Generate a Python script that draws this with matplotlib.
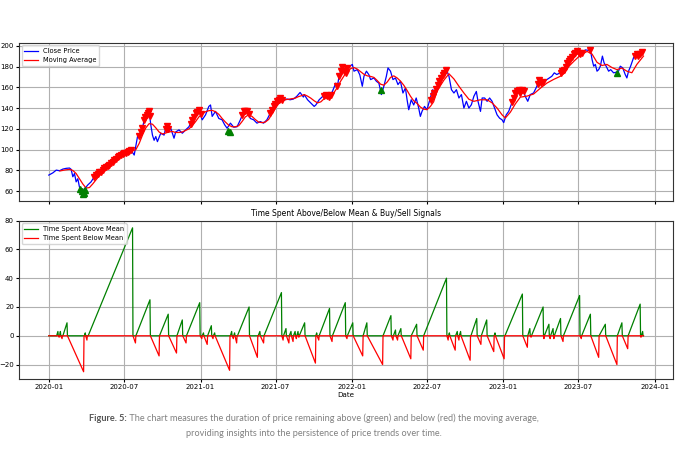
import matplotlib
matplotlib.use("Agg")
import matplotlib.pyplot as plt
import matplotlib.dates as mdates
from matplotlib.ticker import MultipleLocator
import pandas as pd

START = pd.Timestamp("2020-01-01")
LAST_DAY = 1434

# all x values are days after 2020-01-01
close_day = [0, 10, 18, 26, 34, 42, 50, 54, 58, 62, 66, 70, 74, 78, 82, 86, 90, 94, 102, 110,
             118, 126, 134, 142, 150, 158, 166, 174, 182, 190, 198, 206, 214, 220, 226, 230, 236, 242, 246, 250,
             254, 258, 262, 270, 278, 284, 290, 294, 302, 306, 314, 322, 330, 338, 346, 354, 362, 370, 378, 386,
             390, 394, 402, 410, 418, 424, 430, 438, 446, 454, 462, 470, 478, 486, 494, 502, 510, 518, 526, 534,
             542, 550, 558, 566, 574, 582, 590, 598, 606, 614, 616, 624, 632, 640, 644, 652, 660, 668, 676, 684,
             692, 696, 700, 704, 708, 716, 720, 726, 732, 736, 744, 750, 756, 760, 766, 772, 776, 784, 790, 796,
             802, 808, 814, 818, 824, 830, 836, 842, 848, 854, 860, 864, 868, 874, 880, 886, 892, 896, 900, 906,
             912, 920, 926, 929, 937, 945, 953, 959, 965, 971, 977, 983, 989, 995, 1001, 1007, 1013, 1019, 1025, 1031,
             1035, 1041, 1045, 1051, 1057, 1063, 1069, 1075, 1081, 1087, 1093, 1097, 1103, 1109, 1115, 1119, 1125, 1131, 1137, 1143,
             1149, 1155, 1161, 1169, 1177, 1183, 1189, 1195, 1201, 1207, 1213, 1219, 1225, 1233, 1242, 1250, 1258, 1266, 1274, 1280,
             1286, 1294, 1302, 1306, 1310, 1314, 1318, 1322, 1326, 1330, 1335, 1339, 1344, 1350, 1355, 1362, 1368, 1374, 1378, 1384,
             1390, 1394, 1398, 1403, 1410, 1416, 1422, 1427, 1434]
close_val = [75.5, 77.7, 80.3, 79.7, 81.3, 82.0, 82.3, 81.0, 73.9, 77.0, 69.0, 72.0, 64.0, 61.0, 57.5, 62.6, 64.0, 66.0, 69.0, 74.0,
             77.0, 78.7, 82.0, 84.0, 86.8, 90.0, 92.6, 94.8, 96.5, 98.0, 99.7, 94.8, 112.6, 115.8, 120.6, 128.7, 133.5, 136.8, 123.9, 114.0,
             109.0, 112.6, 107.7, 115.8, 114.0, 124.0, 117.4, 120.6, 111.0, 117.0, 119.0, 115.8, 119.0, 122.0, 128.7, 135.0, 138.0, 128.7, 133.5, 141.6,
             143.0, 132.0, 136.8, 130.0, 128.7, 124.0, 120.6, 125.5, 121.6, 122.0, 128.7, 136.8, 136.8, 130.0, 128.7, 125.5, 127.0, 125.5, 128.7, 135.0,
             141.6, 146.5, 149.7, 147.4, 148.7, 148.0, 148.7, 151.3, 155.0, 150.6, 153.0, 148.0, 144.8, 141.6, 143.0, 148.0, 151.0, 153.0, 151.0, 156.0,
             164.0, 161.0, 170.6, 175.5, 178.7, 173.9, 178.7, 180.3, 182.0, 175.5, 177.0, 172.0, 161.0, 170.6, 175.5, 172.0, 167.4, 169.0, 165.8, 164.0,
             153.0, 161.0, 170.6, 178.7, 175.5, 167.4, 169.0, 162.6, 165.8, 154.5, 159.3, 148.0, 138.4, 148.0, 143.0, 149.7, 140.0, 132.0, 136.8, 141.6,
             138.4, 149.7, 157.7, 154.5, 161.0, 169.0, 173.9, 177.0, 170.6, 157.7, 154.5, 157.7, 149.7, 153.0, 140.0, 146.5, 140.0, 143.2, 151.3, 156.0,
             146.5, 136.8, 149.7, 149.7, 146.5, 149.7, 146.5, 140.0, 133.5, 130.3, 128.7, 126.0, 133.5, 136.8, 143.2, 148.0, 154.5, 157.7, 154.5, 157.7,
             151.3, 146.5, 153.0, 154.5, 161.0, 167.4, 162.6, 165.8, 167.4, 169.0, 170.6, 173.9, 172.3, 173.9, 177.0, 183.5, 186.8, 191.6, 194.8, 191.6,
             193.2, 196.0, 195.5, 196.0, 186.8, 180.3, 182.0, 175.5, 177.0, 180.3, 190.0, 183.5, 180.3, 175.5, 177.0, 173.9, 174.5, 175.5, 180.3, 178.7,
             172.3, 169.0, 175.5, 180.3, 188.4, 191.6, 190.0, 193.2, 194.2]

ma_day = [27, 40, 50, 58, 66, 74, 82, 90, 98, 106, 114, 122, 130, 138, 146, 154, 162, 170, 178, 186,
          194, 202, 210, 218, 226, 234, 242, 250, 258, 266, 274, 282, 290, 298, 306, 314, 322, 330, 338, 346,
          354, 362, 370, 378, 386, 394, 402, 410, 418, 426, 434, 442, 450, 458, 466, 474, 482, 490, 498, 506,
          514, 522, 530, 538, 546, 554, 562, 570, 578, 586, 594, 602, 610, 616, 624, 632, 640, 648, 656, 664,
          672, 680, 688, 696, 704, 712, 720, 728, 736, 744, 752, 760, 768, 776, 784, 792, 800, 808, 816, 824,
          832, 840, 848, 856, 864, 872, 880, 888, 896, 904, 912, 920, 928, 937, 945, 953, 965, 977, 989, 1001,
          1013, 1025, 1041, 1057, 1069, 1081, 1093, 1101, 1113, 1125, 1137, 1153, 1169, 1185, 1201, 1217, 1233, 1245, 1250, 1266,
          1282, 1298, 1310, 1322, 1334, 1346, 1358, 1370, 1382, 1394, 1406, 1418, 1434]
ma_val = [79.5, 80.5, 81.0, 80.0, 77.0, 72.0, 67.0, 63.0, 63.5, 67.0, 71.0, 75.0, 78.0, 81.0, 84.0, 87.0, 89.5, 92.0, 94.5, 96.5,
          98.0, 99.0, 100.0, 106.0, 114.0, 121.0, 125.0, 124.5, 121.0, 117.0, 115.0, 116.0, 117.0, 117.5, 116.5, 116.5, 117.0, 118.5, 120.0, 123.0,
          127.0, 131.5, 134.5, 136.5, 137.5, 137.8, 136.5, 134.0, 130.0, 126.5, 123.5, 122.0, 122.0, 123.0, 127.0, 131.5, 133.5, 132.0, 129.0, 126.5,
          126.0, 126.5, 129.0, 134.0, 139.5, 144.0, 146.5, 148.0, 148.5, 149.0, 149.5, 151.0, 152.0, 153.0, 151.5, 149.5, 147.0, 145.0, 146.0, 149.0,
          151.0, 152.5, 155.0, 160.0, 166.0, 171.0, 175.0, 178.0, 179.0, 177.5, 175.0, 172.5, 171.0, 170.5, 169.5, 166.5, 163.0, 162.0, 165.0, 169.5,
          171.0, 169.0, 166.0, 162.0, 157.0, 151.5, 147.0, 144.5, 141.0, 139.0, 138.5, 141.5, 146.0, 157.0, 162.0, 167.0, 173.0, 168.0, 161.0, 154.5,
          148.5, 146.5, 148.0, 148.0, 145.0, 140.0, 133.5, 130.5, 136.0, 144.0, 150.5, 151.5, 153.5, 159.0, 164.0, 167.5, 170.5, 174.0, 178.5, 185.0,
          191.0, 194.5, 192.0, 184.0, 181.0, 182.0, 179.0, 177.0, 178.5, 175.5, 174.0, 182.0, 190.0]

sell_day = [110, 114, 118, 122, 126, 130, 134, 138, 142, 146, 150, 154, 158, 162, 166, 170, 174, 178, 182, 186, 190, 194, 198,
            218, 222, 226, 230, 233, 236, 239, 242, 244, 282, 285, 288,
            342, 346, 350, 354, 358, 362, 366, 466, 470, 474, 478, 482,
            534, 538, 542, 546, 550, 554, 558, 562, 664, 668, 672, 676, 680,
            696, 700, 704, 708, 712, 716, 720, 922, 926, 930, 934, 938, 942, 946, 950, 954, 958,
            1117, 1121, 1125, 1129, 1133, 1137, 1141, 1145, 1179, 1183, 1187, 1191,
            1234, 1238, 1242, 1246, 1250, 1254, 1258, 1262, 1266, 1270, 1274, 1278, 1282, 1286, 1306,
            1414, 1418, 1422, 1426, 1430]
sell_val = [74.0, 75.5, 77.0, 78.0, 78.7, 80.5, 82.0, 83.0, 84.0, 85.5, 86.8, 88.5, 90.0, 91.0, 92.6, 93.5, 94.8, 95.5, 96.5, 97.0, 98.0, 99.0, 99.7,
            113.0, 117.0, 120.6, 128.7, 131.0, 133.5, 135.0, 136.8, 132.0, 120.0, 123.0, 120.0,
            125.0, 128.7, 131.0, 135.0, 136.0, 138.0, 134.0, 133.0, 136.8, 137.0, 136.8, 134.0,
            135.0, 138.0, 141.6, 144.0, 146.5, 148.0, 149.7, 148.0, 152.0, 153.0, 152.0, 151.0, 153.0,
            161.0, 170.6, 176.0, 180.0, 176.0, 173.9, 178.7, 148.0, 152.0, 154.5, 158.0, 162.0, 166.0, 169.0, 172.0, 174.0, 177.0,
            146.0, 150.0, 154.5, 156.5, 157.0, 154.5, 157.0, 156.0, 163.0, 167.4, 164.0, 165.0,
            174.0, 176.0, 177.0, 180.0, 183.5, 185.0, 186.8, 189.0, 191.6, 193.0, 194.8, 193.0, 192.0, 193.2, 196.0,
            190.0, 191.6, 190.5, 192.5, 193.5]

buy_day = [76, 79, 82, 85, 88, 432, 436, 800, 1371]
buy_val = [62.5, 60.0, 57.5, 58.5, 61.0, 118.0, 117.0, 157.5, 173.5]

# bottom panel: runs above the average (start day, end day, count reached)
above_start = [19, 26, 34, 86, 95, 210, 267, 309, 332, 370, 383, 397, 438, 446, 455, 505, 519, 566, 580, 590,
               598, 604, 644, 652, 684, 720, 758, 806, 831, 842, 874, 904, 964, 981, 990, 1018, 1043, 1074, 1100, 1155,
               1164, 1195, 1210, 1219, 1241, 1285, 1327, 1371, 1397, 1429]
above_end = [22, 28, 44, 88, 202, 244, 288, 322, 364, 373, 392, 400, 441, 448, 483, 509, 561, 572, 584, 594,
             601, 617, 646, 677, 715, 733, 767, 825, 836, 849, 887, 959, 966, 985, 993, 1032, 1056, 1076, 1142, 1160,
             1192, 1206, 1216, 1234, 1280, 1306, 1342, 1382, 1426, 1432]
above_peak = [3, 3, 9, 2, 75, 25, 15, 11, 23, 2, 7, 2, 3, 2, 20, 3, 30, 5, 3, 3,
              3, 9, 2, 19, 23, 9, 9, 14, 4, 5, 8, 40, 2, 3, 3, 12, 11, 2, 29, 5,
              20, 8, 5, 12, 28, 15, 8, 9, 22, 3]

# runs below the average (start day, end day, count reached, negative)
below_start = [23, 29, 45, 89, 203, 245, 289, 323, 365, 374, 393, 401, 442, 449, 484, 510, 562, 573, 585, 595,
               602, 618, 647, 678, 716, 734, 768, 826, 837, 850, 888, 960, 967, 986, 994, 1033, 1057, 1077, 1143, 1161,
               1193, 1207, 1217, 1235, 1281, 1307, 1343, 1383, 1427]
below_end = [25, 32, 84, 92, 209, 266, 308, 331, 369, 382, 396, 436, 445, 453, 503, 518, 565, 579, 589, 597,
             603, 643, 651, 683, 719, 757, 805, 830, 841, 873, 903, 963, 980, 989, 1016, 1042, 1073, 1098, 1154, 1163,
             1194, 1209, 1218, 1240, 1284, 1326, 1370, 1396, 1428]
below_low = [-1, -2, -25, -3, -5, -14, -12, -5, -2, -6, -2, -24, -2, -5, -15, -5, -3, -5, -4, -2,
             -1, -19, -3, -4, -2, -14, -20, -3, -3, -16, -10, -3, -10, -3, -17, -6, -11, -16, -8, -1,
             -2, -2, -2, -4, -2, -15, -20, -9, -1]


def to_dates(days):
    return START + pd.to_timedelta(days, unit="D")


def run_line(starts, ends, levels):
    # counter sits at 0, climbs to the level over the run, then resets the day after
    d, v = [0], [0]
    for s, e, lv in zip(starts, ends, levels):
        d += [s, e, e + 1]
        v += [0, lv, 0]
    d.append(LAST_DAY)
    v.append(0)
    return to_dates(d), v


plt.rcParams["font.size"] = 5.1
plt.rcParams["axes.edgecolor"] = "#333333"
fig = plt.figure(figsize=(6.8, 4.61), dpi=100)
ax1 = fig.add_axes([0.028, 0.564, 0.962, 0.3434])
ax2 = fig.add_axes([0.028, 0.178, 0.962, 0.3434], sharex=ax1)

ax1.plot(to_dates(close_day), close_val, color="blue", lw=0.9, label="Close Price")
ax1.plot(to_dates(ma_day), ma_val, color="red", lw=0.9, label="Moving Average")
ax1.plot(to_dates(sell_day), sell_val, "v", color="red", ms=5, ls="none")
ax1.plot(to_dates(buy_day), buy_val, "^", color="green", ms=5, ls="none")
ax1.yaxis.set_major_locator(MultipleLocator(20))
ax1.legend(loc="upper left", fontsize=4.8, borderaxespad=0.4)
ax1.grid(True)
ax1.tick_params(labelbottom=False)

gd, gv = run_line(above_start, above_end, above_peak)
rd, rv = run_line(below_start, below_end, below_low)
ax2.plot(gd, gv, color="green", lw=0.9, label="Time Spent Above Mean")
ax2.plot(rd, rv, color="red", lw=0.9, label="Time Spent Below Mean")
ax2.yaxis.set_major_locator(MultipleLocator(20))
ax2.xaxis.set_major_locator(mdates.MonthLocator(bymonth=[1, 7]))
ax2.xaxis.set_major_formatter(mdates.DateFormatter("%Y-%m"))
ax2.set_title("Time Spent Above/Below Mean & Buy/Sell Signals", fontsize=5.5, pad=3)
ax2.set_xlabel("Date", labelpad=1.5)
ax2.legend(loc="upper left", fontsize=4.8, borderaxespad=0.4)
ax2.grid(True)

for ax in (ax1, ax2):
    ax.tick_params(length=2.2, pad=1.5, labelsize=5.0)

# caption under the chart, "Figure. 5:" in bold
cx = 0.462
cap = dict(family="Lato", size=6.6, va="center")
t_bold = fig.text(0, 0.093, "Figure. 5:", fontweight="bold", color="#555555", **cap)
t_rest = fig.text(0, 0.093, " The chart measures the duration of price remaining above (green) and below (red) the moving average,",
                  color="#808080", **cap)
fig.text(cx, 0.060, "providing insights into the persistence of price trends over time.",
         color="#808080", ha="center", **cap)
r = fig.canvas.get_renderer()
w1 = t_bold.get_window_extent(r).width / fig.bbox.width
w2 = t_rest.get_window_extent(r).width / fig.bbox.width
left = cx - (w1 + w2) / 2
t_bold.set_x(left)
t_rest.set_x(left + w1)

fig.savefig("out.png", dpi=100)
